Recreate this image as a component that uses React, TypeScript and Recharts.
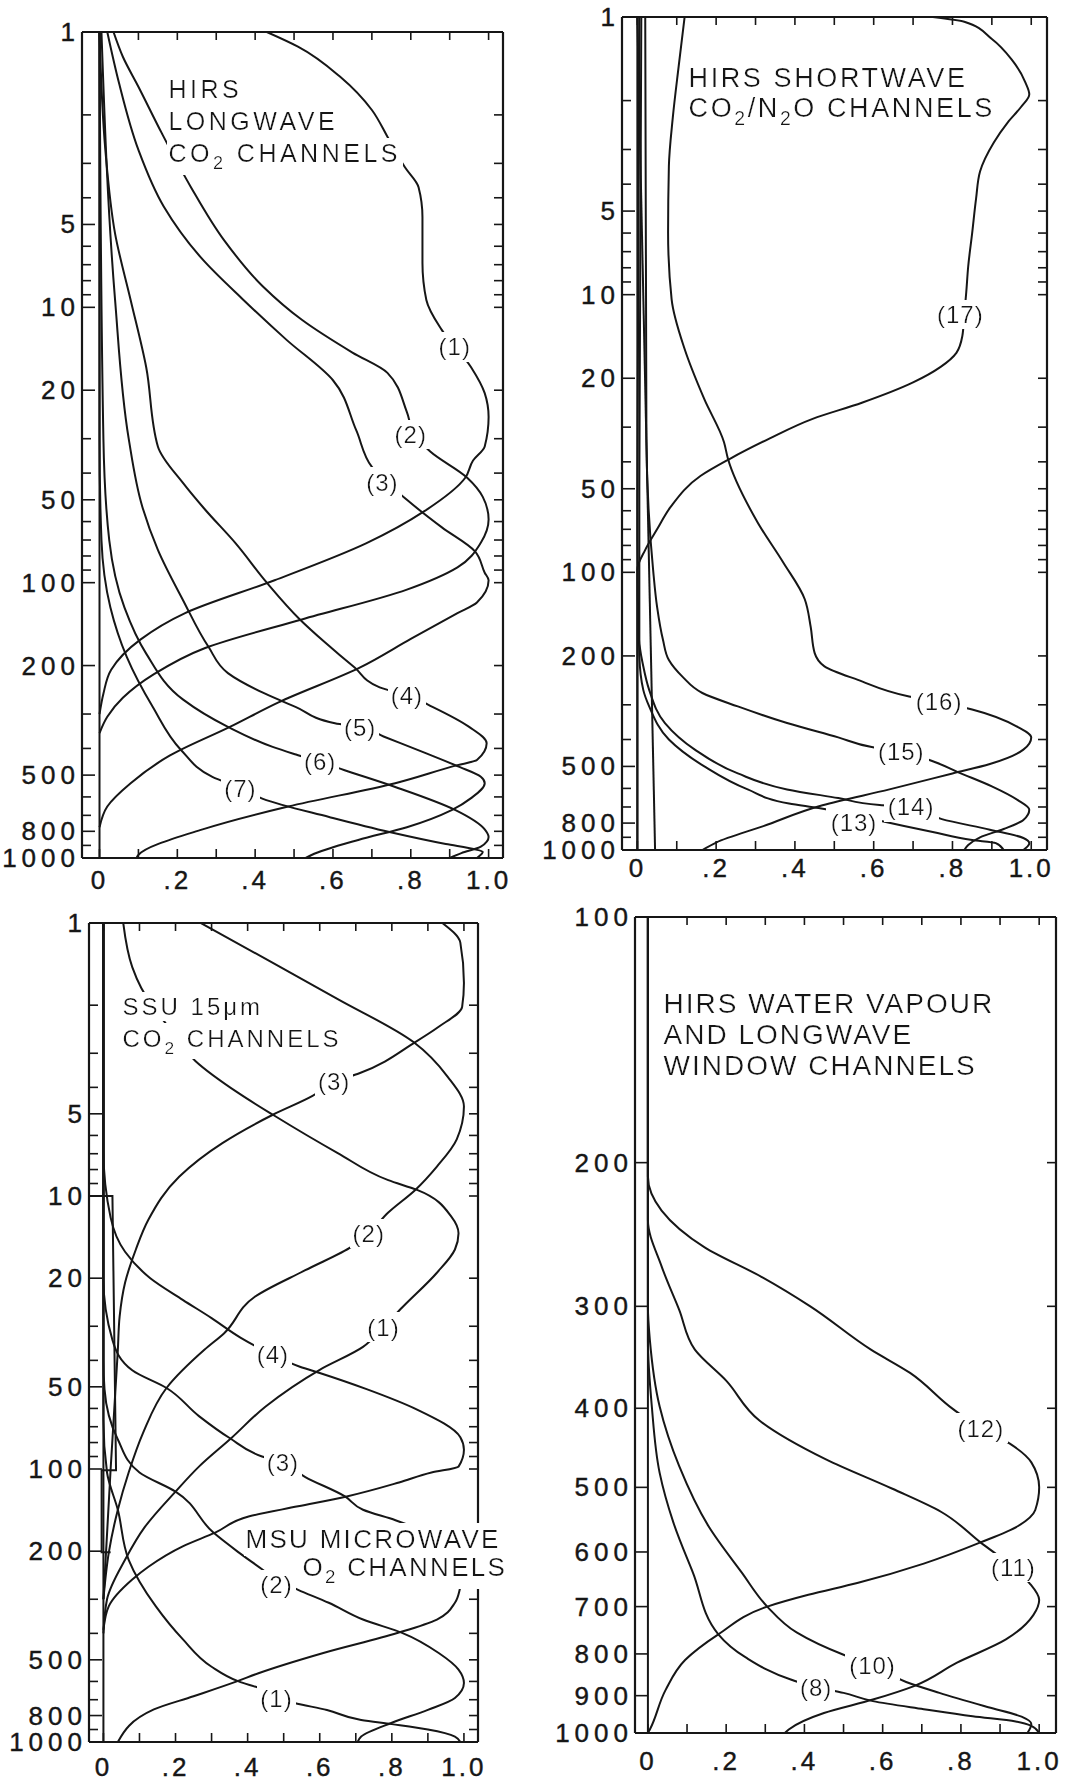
import { LineChart, Line, XAxis, YAxis, ReferenceDot } from 'recharts';

const INK = '#161616';
const FONT = '"Liberation Sans", Arial, Helvetica, sans-serif';

// each curve: [pressure hPa, normalised weighting function]

// HIRS longwave CO2 (top left)
const tlCh1 = [[1, 0.43], [1.13, 0.51], [1.46, 0.62], [1.92, 0.7], [2.4, 0.74], [3.1, 0.785], [3.66, 0.82], [4.7, 0.83], [6.9, 0.83], [9.4, 0.84], [12.1, 0.88], [16.5, 0.955], [20.5, 0.99], [25, 1.0], [32, 0.99], [36, 0.96], [41.6, 0.94], [55, 0.835], [72, 0.685], [98, 0.45], [129, 0.22], [161, 0.105], [207, 0.03], [253, 0.01], [300, 0]];
const tlCh2 = [[1, 0.036], [1.23, 0.06], [1.58, 0.1], [2.33, 0.16], [3.66, 0.235], [5.7, 0.32], [8.4, 0.42], [11.1, 0.52], [14.6, 0.65], [17.3, 0.74], [24, 0.79], [29, 0.81], [33.4, 0.85], [41.6, 0.945], [48.8, 0.985], [59, 1.0], [71.6, 0.98], [88, 0.92], [106, 0.79], [136, 0.52], [173, 0.27], [215, 0.14], [262, 0.06], [307, 0.02], [352, 0]];
const tlCh3 = [[1, 0.02], [1.53, 0.05], [2.68, 0.1], [4.3, 0.165], [6.7, 0.265], [9.4, 0.37], [13.1, 0.48], [18.4, 0.6], [28, 0.66], [38, 0.7], [50, 0.79], [63, 0.88], [77, 0.965], [92, 0.99], [98, 1.0], [118, 0.97], [129, 0.92], [160, 0.8], [203, 0.67], [272, 0.46], [334, 0.335], [425, 0.18], [535, 0.08], [650, 0.02], [773, 0]];
const tlCh4 = [[1, 0], [2.68, 0.015], [5.4, 0.04], [9.4, 0.08], [16.5, 0.12], [32, 0.15], [43.5, 0.215], [54, 0.27], [72, 0.35], [100, 0.43], [136, 0.515], [165, 0.58], [203, 0.655], [240, 0.72], [256, 0.79], [283, 0.857], [334, 0.95], [383, 0.995], [441, 0.97], [460, 0.92], [535, 0.76], [650, 0.485], [787, 0.265], [975, 0.1], [1000, 0.095]];
const tlCh5 = [[1, 0.005], [9.4, 0.04], [30, 0.075], [53, 0.11], [76, 0.15], [116, 0.215], [171, 0.28], [213, 0.33], [251, 0.42], [283, 0.505], [324, 0.605], [335, 0.67], [362, 0.73], [417, 0.84], [467, 0.925], [507, 0.98], [535, 0.99], [606, 0.955], [670, 0.905], [773, 0.79], [860, 0.665], [975, 0.545], [1000, 0.53]];
const tlCh6 = [[1, 0], [30, 0.01], [70, 0.025], [123, 0.064], [181, 0.12], [266, 0.215], [334, 0.33], [395, 0.445], [421, 0.505], [448, 0.567], [480, 0.63], [552, 0.76], [670, 0.915], [787, 0.99], [839, 1.0], [910, 0.98], [960, 0.93], [1000, 0.9]];
const tlCh7 = [[1, 0], [30, 0], [70, 0.005], [123, 0.028], [186, 0.07], [283, 0.137], [406, 0.21], [507, 0.29], [557, 0.362], [610, 0.42], [710, 0.59], [805, 0.745], [890, 0.89], [930, 0.965], [950, 0.985], [1000, 0.97]];
const tlZero = [[1, 0], [1000, 0]];
const tlTags = [['(1)', 13.9, 0.913], ['(2)', 29, 0.8], ['(3)', 43.1, 0.727], ['(4)', 256, 0.79], ['(5)', 335, 0.67], ['(6)', 448, 0.567], ['(7)', 557, 0.362]];

// HIRS shortwave CO2/N2O (top right)
const trCh13 = [[1, 0.005], [76, 0], [200, 0.005], [265, 0.015], [304, 0.03], [400, 0.08], [500, 0.17], [605, 0.28], [680, 0.385], [706, 0.46], [790, 0.625], [862, 0.75], [921, 0.85], [945, 0.91], [1000, 0.93]];
const trCh14 = [[1, 0.01], [50, 0.005], [175, 0.005], [218, 0.015], [265, 0.03], [349, 0.07], [434, 0.145], [530, 0.255], [605, 0.38], [650, 0.51], [689, 0.615], [700, 0.695], [774, 0.773], [845, 0.895], [905, 0.98], [945, 0.995], [1000, 0.98]];
const trCh15 = [[1, 0.02], [33, 0.023], [98, 0.04], [133, 0.05], [175, 0.065], [207, 0.08], [238, 0.115], [272, 0.165], [304, 0.255], [349, 0.38], [393, 0.51], [426, 0.595], [443, 0.67], [482, 0.755], [525, 0.815], [590, 0.9], [660, 0.965], [716, 0.995], [780, 0.98], [840, 0.93], [900, 0.87], [960, 0.84], [1000, 0.83]];
const trCh16 = [[1, 0.12], [1.5, 0.105], [2.3, 0.09], [3.45, 0.08], [6, 0.078], [10.4, 0.087], [15.7, 0.12], [23.8, 0.17], [34, 0.22], [39, 0.23], [66, 0.305], [92, 0.37], [125, 0.425], [157, 0.44], [195, 0.45], [218, 0.475], [244, 0.56], [280, 0.69], [293, 0.766], [312, 0.85], [360, 0.965], [393, 1.0], [435, 0.98], [490, 0.895], [530, 0.8], [605, 0.64], [690, 0.47], [820, 0.32], [940, 0.2], [1000, 0.165]];
const trCh17 = [[1, 0.75], [1.04, 0.83], [1.2, 0.9], [1.42, 0.95], [1.72, 0.985], [1.9, 0.995], [2.1, 0.975], [2.4, 0.94], [2.83, 0.905], [3.6, 0.87], [4.5, 0.86], [6, 0.85], [7.9, 0.84], [9.8, 0.835], [11.8, 0.83], [14.1, 0.825], [16.2, 0.81], [18.2, 0.77], [20.7, 0.7], [24.5, 0.57], [28, 0.445], [33, 0.335], [39, 0.235], [45, 0.16], [58, 0.085], [70, 0.05], [83, 0.02], [98, 0], [1000, 0]];
const trZero = [[1, 0], [1000, 0]];
const trDrift = [[1, 0], [1000, 0.045]];
const trTags = [['(17)', 11.8, 0.82], ['(16)', 293, 0.766], ['(15)', 443, 0.67], ['(14)', 700, 0.695], ['(13)', 794, 0.55]];

// SSU 15um CO2 and MSU O2 (bottom left)
const ssu1 = [[1, 0.055], [1.45, 0.08], [1.73, 0.105], [2.4, 0.18], [3.2, 0.255], [4.2, 0.375], [5.04, 0.47], [6.96, 0.65], [8.75, 0.79], [9.5, 0.87], [11.9, 0.965], [13.7, 0.985], [15.7, 0.975], [19.1, 0.925], [25.5, 0.83], [30.2, 0.777], [35.7, 0.72], [43.3, 0.6], [59, 0.45], [77, 0.355], [98, 0.265], [121, 0.2], [163, 0.115], [215, 0.06], [300, 0.01], [400, 0]];
const ssu2 = [[1, 0.27], [1.4, 0.47], [1.9, 0.65], [2.73, 0.86], [3.66, 0.955], [4.7, 1.0], [6.2, 0.98], [7.8, 0.925], [9.5, 0.865], [11.5, 0.79], [13.7, 0.736], [15.3, 0.69], [18.7, 0.56], [23.4, 0.42], [31.8, 0.335], [36.6, 0.28], [50.5, 0.175], [73.7, 0.11], [103, 0.07], [141, 0.04], [202, 0.015], [300, 0]];
const ssu3 = [[1, 0.94], [1.18, 0.99], [1.66, 1.0], [2.03, 0.995], [2.4, 0.93], [2.73, 0.865], [3.55, 0.71], [3.82, 0.64], [4.3, 0.58], [5.04, 0.47], [6.4, 0.33], [8.5, 0.21], [12.2, 0.125], [15.7, 0.09], [20.8, 0.06], [27.6, 0.045], [36.6, 0.04], [100, 0.02], [300, 0]];
const msu1 = [[1, 0], [66, 0], [103, 0.01], [141, 0.04], [215, 0.07], [318, 0.145], [420, 0.22], [530, 0.3], [600, 0.375], [640, 0.44], [690, 0.48], [720, 0.53], [763, 0.62], [830, 0.715], [860, 0.8], [900, 0.9], [955, 0.975], [1000, 0.99]];
const msu2 = [[1, 0], [40, 0], [51, 0.003], [78, 0.04], [103, 0.1], [121, 0.2], [171, 0.305], [202, 0.375], [233, 0.44], [255, 0.48], [277, 0.54], [309, 0.625], [356, 0.72], [399, 0.83], [472, 0.93], [543, 0.985], [608, 1.0], [690, 0.975], [763, 0.9], [850, 0.8], [955, 0.715], [1000, 0.705]];
const msu3 = [[1, 0], [20, 0], [33.7, 0.025], [43.5, 0.08], [50.5, 0.175], [64, 0.265], [77, 0.35], [90, 0.44], [95, 0.498], [107, 0.56], [126, 0.67], [141, 0.72], [154, 0.81], [180, 0.93], [210, 1.0], [240, 1.0], [271, 0.99], [309, 0.975], [356, 0.925], [399, 0.815], [472, 0.61], [560, 0.43], [600, 0.37], [680, 0.25], [760, 0.14], [1000, 0.04]];
const msu4 = [[1, 0], [6.8, 0], [12, 0.02], [16, 0.06], [20, 0.13], [24, 0.22], [28, 0.3], [33, 0.38], [38.2, 0.47], [42.2, 0.545], [44.5, 0.6], [51, 0.73], [60.6, 0.87], [76.5, 0.99], [85, 1.0], [98, 0.985], [103, 0.91], [112, 0.82], [126, 0.675], [137, 0.54], [149, 0.405], [171, 0.31], [192, 0.22], [228, 0.125], [254, 0.08], [318, 0.015], [388, 0]];
const blZero = [[1, 0], [1000, 0]];
const blSteps = [[10, -0.04], [10, 0.025], [101, 0.035], [101, -0.005], [202, -0.005], [202, 0.02]];
const blTags = [['(3)', 3.82, 0.64], ['(2)', 13.7, 0.736], ['(1)', 30.2, 0.777], ['(4)', 38.2, 0.47], ['(3)', 94.4, 0.498], ['(2)', 265, 0.48], ['(1)', 690, 0.48]];

// HIRS water vapour and window (bottom right)
const wv8 = [[100, 0], [330, 0], [398, 0.01], [480, 0.03], [552, 0.065], [636, 0.115], [757, 0.18], [808, 0.25], [860, 0.365], [879, 0.43], [893, 0.5], [914, 0.575], [935, 0.705], [954, 0.83], [968, 0.94], [980, 0.98], [1000, 1.0]];
const wv10 = [[100, 0], [300, 0], [330, 0.005], [398, 0.03], [471, 0.08], [558, 0.155], [636, 0.24], [700, 0.305], [753, 0.38], [802, 0.5], [826, 0.574], [866, 0.66], [893, 0.745], [930, 0.87], [955, 0.955], [975, 0.98], [1000, 0.97]];
const wv11 = [[100, 0], [235, 0], [268, 0.035], [303, 0.08], [339, 0.12], [370, 0.2], [414, 0.285], [462, 0.455], [502, 0.625], [536, 0.75], [584, 0.85], [627, 0.934], [655, 0.975], [687, 1.0], [717, 0.985], [768, 0.915], [820, 0.79], [876, 0.68], [910, 0.575], [945, 0.45], [990, 0.36], [1000, 0.35]];
const wv12 = [[100, 0], [208, 0], [229, 0.035], [254, 0.145], [276, 0.29], [300, 0.415], [339, 0.57], [362, 0.67], [401, 0.78], [423, 0.851], [442, 0.925], [466, 0.98], [500, 1.0], [533, 0.99], [558, 0.945], [584, 0.85], [620, 0.705], [655, 0.535], [677, 0.41], [700, 0.305], [757, 0.18], [814, 0.095], [886, 0.045], [990, 0.005], [1000, 0]];
const brZero = [[100, 0], [1000, 0]];
const brTags = [['(12)', 423, 0.851], ['(11)', 627, 0.934], ['(10)', 826, 0.574], ['(8)', 879, 0.43]];

// axes
const wTicks = [0, 0.1, 0.2, 0.3, 0.4, 0.5, 0.6, 0.7, 0.8, 0.9, 1.0];
const wLabelTicks = [0, 0.2, 0.4, 0.6, 0.8, 1.0];
const pTicksHigh = [1, 2, 3, 4, 5, 6, 7, 8, 9, 10, 20, 30, 40, 50, 60, 70, 80, 90, 100, 200, 300, 400, 500, 600, 700, 800, 900, 1000];
const pLabelsHigh = [1, 5, 10, 20, 50, 100, 200, 500, 800, 1000];
const pTicksLow = [100, 200, 300, 400, 500, 600, 700, 800, 900, 1000];

const rows = (pts: number[][]) => pts.map(([p, w]) => ({ p, w }));
const fmtW = (v: number) => (v === 0 ? '0' : v === 1 ? '1.0' : '.' + Math.round(v * 10));

const axisLine = { stroke: INK, strokeWidth: 2.2 };
const txt = { fontFamily: FONT, fill: INK };
const numTxt = { ...txt, fontSize: 26, stroke: INK, strokeWidth: 0.4 };

const leftTick = (labels: number[]) => (props: any) => {
  const { x, y, payload } = props;
  const major = labels.includes(payload.value);
  return (
    <g>
      <line x1={x} x2={x + (major ? 13 : 9)} y1={y} y2={y} stroke={INK} strokeWidth={1.6} />
      {major && (
        <text x={x - 2} y={y} textAnchor="end" dominantBaseline="central" letterSpacing={5} {...numTxt}>
          {payload.value}
        </text>
      )}
    </g>
  );
};

const rightTick = (props: any) => (
  <line x1={props.x} x2={props.x - 9} y1={props.y} y2={props.y} stroke={INK} strokeWidth={1.6} />
);

const topTick = (props: any) => (
  <line x1={props.x} x2={props.x} y1={props.y} y2={props.y + 8} stroke={INK} strokeWidth={1.6} />
);

const bottomTick = (gap: number) => (props: any) => {
  const { x, y, payload } = props;
  const lab = wLabelTicks.some((v) => Math.abs(v - payload.value) < 1e-6);
  return (
    <g>
      <line x1={x} x2={x} y1={y} y2={y - 9} stroke={INK} strokeWidth={1.6} />
      {lab && (
        <text x={x} y={y + gap} textAnchor="middle" dominantBaseline="central" letterSpacing={3} {...numTxt}>
          {fmtW(payload.value)}
        </text>
      )}
    </g>
  );
};

// white paper behind a text, sized by the browser from the text's own bounding box
const Paper = ({ id, pad }: { id: string; pad: number }) => (
  <defs>
    <filter id={id} x={-pad} y="-0.03" width={1 + 2 * pad} height="1.06">
      <feFlood floodColor="#fff" />
      <feComposite in="SourceGraphic" operator="over" />
    </filter>
  </defs>
);

const tagShape = (text: string) => (props: any) => (
  <g>
    <Paper id="paperTag" pad={0.08} />
    <text
      x={props.cx}
      y={props.cy}
      textAnchor="middle"
      dominantBaseline="central"
      fontSize={24}
      letterSpacing={1}
      filter="url(#paperTag)"
      {...txt}
    >
      {text}
    </text>
  </g>
);

// "_2" marks a subscript digit
function richLine(line: string, size: number) {
  const d = Math.round(size * 0.28);
  let low = false;
  return line
    .split(/(_\d)/)
    .filter(Boolean)
    .map((part, i) => {
      if (part.startsWith('_')) {
        low = true;
        return (
          <tspan key={i} fontSize={size * 0.72} dy={d}>
            {part.slice(1)}
          </tspan>
        );
      }
      const dy = low ? -d : 0;
      low = false;
      return (
        <tspan key={i} dy={dy}>
          {part}
        </tspan>
      );
    });
}

type Note = { lines: string[]; p: number; w: number; size: number; gap: number; spacing: number; indents?: number[] };

const noteShape = (n: Note) => (props: any) => (
  <g>
    <Paper id="paperNote" pad={0.005} />
    {n.lines.map((ln, i) => (
      <text
        key={i}
        x={props.cx + (n.indents ? n.indents[i] : 0)}
        y={props.cy + i * n.gap}
        fontSize={n.size}
        letterSpacing={n.spacing}
        filter="url(#paperNote)"
        {...txt}
      >
        {richLine(ln, n.size)}
      </text>
    ))}
  </g>
);

type PanelCfg = {
  box: { left: number; top: number; width: number; height: number };
  wDomain: [number, number];
  pDomain: [number, number];
  pTicks: number[];
  pLabels: number[];
  series: { pts: number[][]; linear?: boolean }[];
  tags: (string | number)[][];
  notes: Note[];
  labelGap: number;
};

// one plot; with overlay set it draws only the annotations, on top of the curves and frame
function Plot({ cfg, overlay }: { cfg: PanelCfg; overlay?: boolean }) {
  const { box } = cfg;
  const width = box.width + 150;
  const height = box.height + 90;
  const show = !overlay;
  return (
    <div style={{ position: 'absolute', left: box.left - 90, top: box.top - 40 }}>
      <LineChart layout="vertical" width={width} height={height} margin={{ top: 39, right: 59, bottom: 10, left: 20 }}>
        <XAxis
          type="number"
          domain={cfg.wDomain}
          ticks={wTicks}
          interval={0}
          allowDataOverflow
          height={40}
          tickSize={0}
          tickMargin={0}
          tickLine={false}
          axisLine={show ? axisLine : false}
          tick={show ? bottomTick(cfg.labelGap) : false}
        />
        <XAxis
          xAxisId="top"
          orientation="top"
          type="number"
          domain={cfg.wDomain}
          ticks={wTicks}
          interval={0}
          allowDataOverflow
          height={1}
          tickSize={0}
          tickMargin={0}
          tickLine={false}
          axisLine={show ? axisLine : false}
          tick={show ? topTick : false}
        />
        <YAxis
          dataKey="p"
          type="number"
          scale="log"
          domain={cfg.pDomain}
          ticks={cfg.pTicks}
          interval={0}
          allowDataOverflow
          width={70}
          tickSize={0}
          tickMargin={0}
          tickLine={false}
          axisLine={show ? axisLine : false}
          tick={show ? leftTick(cfg.pLabels) : false}
        />
        <YAxis
          yAxisId="right"
          orientation="right"
          dataKey="p"
          type="number"
          scale="log"
          domain={cfg.pDomain}
          ticks={cfg.pTicks}
          interval={0}
          allowDataOverflow
          width={1}
          tickSize={0}
          tickMargin={0}
          tickLine={false}
          axisLine={show ? axisLine : false}
          tick={show ? rightTick : false}
        />
        {show &&
          cfg.series.map((s, i) => (
            <Line
              key={i}
              data={rows(s.pts)}
              dataKey="w"
              type={s.linear ? 'linear' : 'monotone'}
              stroke={INK}
              strokeWidth={2}
              dot={false}
              isAnimationActive={false}
            />
          ))}
        {overlay &&
          cfg.notes.map((n, i) => (
            <ReferenceDot key={'n' + i} x={n.w} y={n.p} r={0} ifOverflow="visible" shape={noteShape(n)} />
          ))}
        {overlay &&
          cfg.tags.map((t, i) => (
            <ReferenceDot
              key={'t' + i}
              x={t[2] as number}
              y={t[1] as number}
              r={0}
              ifOverflow="visible"
              shape={tagShape(t[0] as string)}
            />
          ))}
      </LineChart>
    </div>
  );
}

const panels: PanelCfg[] = [
  {
    box: { left: 82, top: 32, width: 421, height: 826 },
    wDomain: [-0.045, 1.037],
    pDomain: [1, 1000],
    pTicks: pTicksHigh,
    pLabels: pLabelsHigh,
    series: [tlCh1, tlCh2, tlCh3, tlCh4, tlCh5, tlCh6, tlCh7, tlZero].map((pts) => ({ pts })),
    tags: tlTags,
    notes: [{ lines: ['HIRS', 'LONGWAVE', 'CO_2 CHANNELS'], w: 0.177, p: 1.74, size: 25, gap: 32, spacing: 3.5 }],
    labelGap: 22,
  },
  {
    box: { left: 622, top: 17, width: 425, height: 833 },
    wDomain: [-0.039, 1.04],
    pDomain: [1, 1000],
    pTicks: pTicksHigh,
    pLabels: pLabelsHigh,
    series: [
      ...[trCh13, trCh14, trCh15, trCh16, trCh17, trZero].map((pts) => ({ pts })),
      { pts: trDrift, linear: true },
    ],
    tags: trTags,
    notes: [{ lines: ['HIRS SHORTWAVE', 'CO_2/N_2O CHANNELS'], w: 0.13, p: 1.79, size: 27, gap: 30, spacing: 2.6 }],
    labelGap: 18,
  },
  {
    box: { left: 89, top: 923, width: 389, height: 819 },
    wDomain: [-0.04, 1.039],
    pDomain: [1, 1000],
    pTicks: pTicksHigh,
    pLabels: pLabelsHigh,
    series: [
      ...[ssu1, ssu2, ssu3, msu1, msu2, msu3, msu4, blZero].map((pts) => ({ pts })),
      { pts: blSteps, linear: true },
    ],
    tags: blTags,
    notes: [
      { lines: ['SSU 15μm', 'CO_2 CHANNELS'], w: 0.053, p: 2.17, size: 24, gap: 32, spacing: 3 },
      { lines: ['MSU MICROWAVE', 'O_2 CHANNELS'], w: 0.394, p: 195, size: 26, gap: 28, spacing: 2.3, indents: [0, 57] },
    ],
    labelGap: 25,
  },
  {
    box: { left: 635, top: 917, width: 421, height: 816 },
    wDomain: [-0.033, 1.043],
    pDomain: [100, 1000],
    pTicks: pTicksLow,
    pLabels: pTicksLow,
    series: [wv8, wv10, wv11, wv12, brZero].map((pts) => ({ pts })),
    tags: brTags,
    notes: [
      {
        lines: ['HIRS WATER VAPOUR', 'AND LONGWAVE', 'WINDOW CHANNELS'],
        w: 0.04,
        p: 131,
        size: 28,
        gap: 31,
        spacing: 2,
      },
    ],
    labelGap: 28,
  },
];

export default function App() {
  return (
    <div style={{ position: 'absolute', left: 0, top: 0, width: 1075, height: 1781, background: '#fff', overflow: 'hidden' }}>
      {panels.map((cfg, i) => (
        <Plot key={'b' + i} cfg={cfg} />
      ))}
      {panels.map((cfg, i) => (
        <Plot key={'o' + i} cfg={cfg} overlay />
      ))}
    </div>
  );
}
